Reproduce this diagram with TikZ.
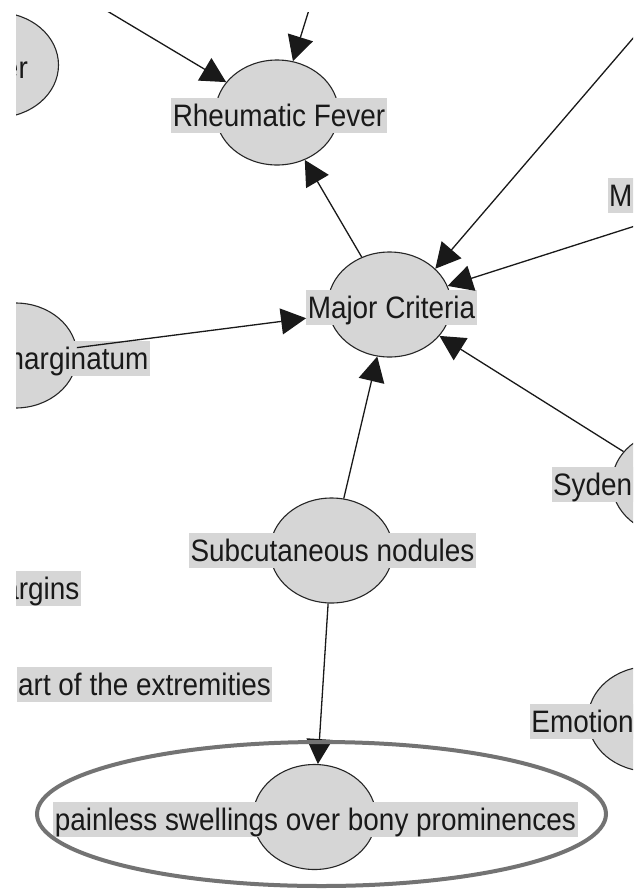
\documentclass[tikz,border=0pt]{standalone}
\usepackage{fontspec}
\setmainfont{Liberation Sans}[FakeStretch=0.9]
\usetikzlibrary{shapes.geometric,arrows.meta}
\definecolor{nodegray}{RGB}{214,214,214}
\definecolor{hlgray}{RGB}{115,115,115}
\begin{document}
\begin{tikzpicture}[x=1pt,y=-1pt,
  circ/.style={ellipse, draw=black!85, line width=1.1pt, fill=nodegray,
    minimum width=123pt, minimum height=105pt, inner sep=0pt},
  lbl/.style={fill=nodegray, inner xsep=1.5pt, inner ysep=2.5pt,
    text height=26pt, text depth=4pt, font=\fontsize{31}{33}\selectfont, text=black!90},
  cutlbl/.style={lbl, text width=110pt, align=left, anchor=west},
  arr/.style={draw=black!90, line width=1.3pt, -{Triangle[length=25pt,width=26pt]}},
  hl/.style={ellipse, draw=hlgray, line width=4pt, minimum width=569pt,
    minimum height=144pt, inner sep=0pt}]
\useasboundingbox (0,0) rectangle (633,892);
\fill[white] (0,0) rectangle (633,892);
\clip (16,12) rectangle (633,892);

% circles
\node[circ] (ER) at (-3,65) {};
\node[circ] (RF) at (277,112.5) {};
\node[circ] (MM) at (732,195) {};
\node[circ] (MG) at (15.5,355.5) {};
\node[circ] (MC) at (389.5,304.5) {};
\node[circ] (SY) at (673.5,483) {};
\node[circ] (SN) at (331.5,550.5) {};
\node[circ] (EM) at (649.5,719) {};
\node[circ] (PS) at (314.5,817) {};

% labels
\node[lbl, anchor=east] (ERl) at (29.5,67) {er};
\node[lbl] (RFl) at (279,115.7) {Rheumatic Fever};
\node[cutlbl] (MMl) at (607.5,195.7) {M};
\node[lbl, anchor=east] (MGl) at (150,358.3) {marginatum};
\node[lbl] (MCl) at (391.5,307.3) {Major Criteria};
\node[cutlbl] (SYl) at (551.3,484) {Syden};
\node[lbl] (SNl) at (332.5,550.7) {Subcutaneous nodules};
\node[lbl, anchor=east] (ARl) at (81,588) {argins};
\node[lbl, anchor=west] (AEl) at (16.5,684.3) {art of the extremities};
\node[cutlbl] (EMl) at (529.7,721) {Emotion};
\node[lbl] (PSl) at (315.5,819.3) {painless swellings over bony prominences};

% off-screen sources
\coordinate (srcA) at (26.5,-37.2);
\coordinate (srcB) at (323.5,-36.8);
\coordinate (srcC) at (731,-76);

% connectors
\draw[arr] (srcA) -- (RF);
\draw[arr] (srcB) -- (RF);
\draw[arr] (MC) -- (RF);
\draw[arr] (srcC) -- (MC.38);
\draw[arr] (MM) -- (MC);
\draw[arr] (MG) -- (MCl);
\draw[arr] (SY) -- (MC);
\draw[arr] (SN) -- (MC);
\draw[arr] (SN) -- (PS);

% highlight
\node[hl] (HL) at (321.5,814) {};
\end{tikzpicture}
\end{document}
